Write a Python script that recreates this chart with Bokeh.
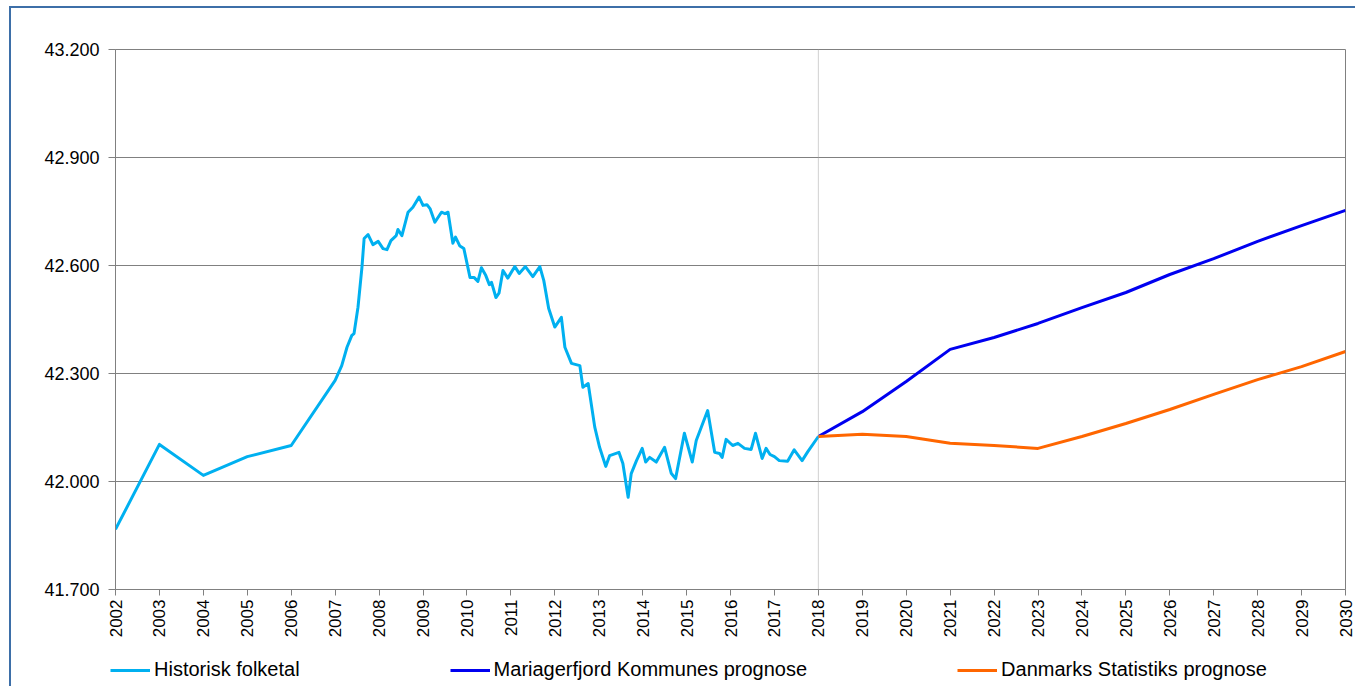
import math
from bokeh.plotting import figure
from bokeh.layouts import column
from bokeh.models import FixedTicker, Span, Legend, LegendItem, Range1d
from bokeh.embed import file_html
from bokeh.resources import INLINE

# ---------------- data ----------------
hist_year = [2002.0, 2003.0, 2004.0, 2005.0, 2006.0, 2007.0, 2007.15, 2007.27, 2007.38, 2007.43,
             2007.52, 2007.61, 2007.66, 2007.75, 2007.86, 2007.98, 2008.09, 2008.18, 2008.27, 2008.39,
             2008.43, 2008.52, 2008.66, 2008.77, 2008.91, 2009.0, 2009.09, 2009.16, 2009.27, 2009.42,
             2009.5, 2009.57, 2009.68, 2009.74, 2009.84, 2009.93, 2010.07, 2010.16, 2010.25, 2010.33,
             2010.43, 2010.51, 2010.56, 2010.66, 2010.73, 2010.82, 2010.93, 2011.09, 2011.19, 2011.33,
             2011.5, 2011.66, 2011.75, 2011.86, 2012.0, 2012.15, 2012.23, 2012.38, 2012.57, 2012.64,
             2012.76, 2012.91, 2013.02, 2013.16, 2013.25, 2013.46, 2013.55, 2013.67, 2013.74, 2013.86,
             2013.99, 2014.07, 2014.16, 2014.31, 2014.5, 2014.65, 2014.75, 2014.95, 2015.13, 2015.22,
             2015.48, 2015.64, 2015.75, 2015.81, 2015.9, 2016.05, 2016.17, 2016.32, 2016.47, 2016.57,
             2016.72, 2016.81, 2016.9, 2017.0, 2017.11, 2017.3, 2017.45, 2017.63, 2017.76, 2018.0]
hist_value = [41867, 42103, 42017, 42069, 42100, 42281, 42322, 42373, 42406, 42411,
              42484, 42595, 42675, 42686, 42658, 42667, 42647, 42644, 42669, 42683,
              42700, 42683, 42748, 42762, 42790, 42767, 42769, 42758, 42720, 42748,
              42744, 42748, 42662, 42679, 42654, 42647, 42567, 42567, 42556, 42594,
              42572, 42547, 42553, 42511, 42523, 42586, 42565, 42597, 42578, 42597,
              42569, 42597, 42558, 42481, 42429, 42456, 42373, 42328, 42322, 42262,
              42272, 42151, 42095, 42042, 42072, 42081, 42050, 41956, 42022, 42058,
              42092, 42054, 42067, 42054, 42095, 42023, 42008, 42134, 42054, 42114,
              42197, 42081, 42078, 42067, 42117, 42100, 42106, 42092, 42089, 42134,
              42064, 42092, 42075, 42069, 42058, 42056, 42088, 42058, 42083, 42125]

forecast_year = [2018, 2019, 2020, 2021, 2022, 2023, 2024, 2025, 2026, 2027, 2028, 2029, 2030]
mariagerfjord = [42125, 42194, 42278, 42367, 42400, 42439, 42483, 42525, 42575, 42619, 42667, 42711, 42753]
danmarks_stat = [42125, 42131, 42125, 42106, 42100, 42092, 42125, 42161, 42200, 42242, 42283, 42319, 42361]

y_ticks = [41700, 42000, 42300, 42600, 42900, 43200]
y_labels = ["41.700", "42.000", "42.300", "42.600", "42.900", "43.200"]
x_ticks = list(range(2002, 2031))

series_names = ["Historisk folketal", "Mariagerfjord Kommunes prognose", "Danmarks Statistiks prognose"]
series_colors = ["#00B0F0", "#0000F0", "#FF6600"]
FONT = "Liberation Sans"

# ---------------- main chart ----------------
p = figure(width=1344, height=640, output_backend="svg", toolbar_location=None,
           x_range=Range1d(2002, 2030), y_range=Range1d(41700, 43200),
           min_border_left=104, min_border_right=10, min_border_top=41, min_border_bottom=59)
p.frame_align = False
p.background_fill_color = "white"
p.border_fill_color = "white"
p.outline_line_color = "#808080"
p.outline_line_width = 1

p.xgrid.visible = False
p.ygrid.grid_line_color = "#808080"
p.ygrid.grid_line_width = 1

p.yaxis.ticker = FixedTicker(ticks=y_ticks)
p.yaxis.major_label_overrides = {t: l for t, l in zip(y_ticks, y_labels)}
p.xaxis.ticker = FixedTicker(ticks=x_ticks)
p.xaxis.major_label_orientation = math.pi / 2

for ax in (p.xaxis, p.yaxis):
    ax.axis_line_color = "#808080"
    ax.major_tick_line_color = "#808080"
    ax.minor_tick_line_color = None
    ax.major_tick_in = 0
    ax.major_label_text_font = FONT
    ax.major_label_text_color = "#000000"
p.yaxis.major_tick_out = 7
p.yaxis.major_label_standoff = 9
p.yaxis.major_label_text_font_size = "18px"
p.xaxis.major_tick_out = 6
p.xaxis.major_label_standoff = 4
p.xaxis.major_label_text_font_size = "17px"

p.add_layout(Span(location=2018, dimension="height", line_color="#a0a0a0", line_width=1,
                  line_dash="1 1"))

p.line(hist_year, hist_value, line_color=series_colors[0], line_width=3, line_join="round")
p.line(forecast_year, mariagerfjord, line_color=series_colors[1], line_width=3, line_join="round")
p.line(forecast_year, danmarks_stat, line_color=series_colors[2], line_width=3, line_join="round")

# ---------------- legend strip ----------------
q = figure(width=1344, height=38, output_backend="svg", toolbar_location=None,
           x_range=Range1d(0, 1), y_range=Range1d(0, 1),
           min_border_left=0, min_border_right=0, min_border_top=0, min_border_bottom=0)
q.frame_align = False
q.axis.visible = False
q.grid.visible = False
q.outline_line_color = None
q.background_fill_color = "white"
q.border_fill_color = "white"
items = []
for name, col in zip(series_names, series_colors):
    # legend-only renderers: kept outside the visible range of this strip
    r = q.line(x=[-2, -1], y=[-2, -1], line_color=col, line_width=3)
    items.append(LegendItem(label=name, renderers=[r]))
legend = Legend(items=items, location=(99, 5), orientation="horizontal", border_line_color=None,
                background_fill_alpha=0, padding=0, margin=0, spacing=150,
                glyph_width=40, glyph_height=20, label_height=20, label_standoff=4,
                label_text_font=FONT, label_text_font_size="20px", label_text_color="#000000")
q.add_layout(legend, "center")

layout = column(p, q, spacing=0)
layout.styles = {"margin-left": "9px", "margin-top": "6px",
                 "border-left": "2px solid #3d6fa8", "border-top": "2px solid #3d6fa8"}

open("out.html", "w").write(file_html(layout, INLINE))
